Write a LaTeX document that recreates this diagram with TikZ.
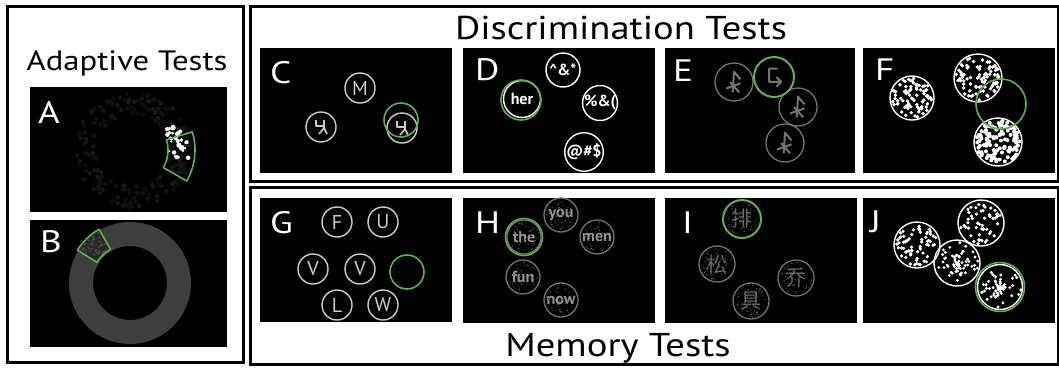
\documentclass[tikz,border=0pt]{standalone}
\usepackage{fontspec}
\usepackage{graphicx}
\setmainfont{PT Sans}
\newfontfamily\cjk{Noto Sans CJK SC}
\definecolor{pickgreen}{RGB}{96,178,72}
\definecolor{ringgray}{RGB}{62,62,62}
\definecolor{softgray}{RGB}{205,205,205}
\definecolor{dimgray}{RGB}{115,115,115}
\definecolor{textgray}{RGB}{150,150,150}
\definecolor{hangray}{RGB}{105,105,105}

% headings and panel letters are set a little wider than the face
\newcommand\wide[1]{\scalebox{1.2}[1]{#1}}

% random dots spread evenly over a disc: x, y, radius, count, dot radius, colour
\newcommand\speckle[6]{%
  \foreach \k in {1,...,#4}{%
    \pgfmathsetmacro\drad{#3*sqrt(rnd)}%
    \pgfmathsetmacro\dang{360*rnd}%
    \fill[#6] ({#1+\drad*cos(\dang)},{#2+\drad*sin(\dang)}) circle (#5);
  }}
% random dots gathered towards the middle of a disc
\newcommand\clump[6]{%
  \foreach \k in {1,...,#4}{%
    \pgfmathsetmacro\drad{#3*rnd}%
    \pgfmathsetmacro\dang{360*rnd}%
    \fill[#6] ({#1+\drad*cos(\dang)},{#2+\drad*sin(\dang)}) circle (#5);
  }}

\tikzset{
  frame/.style={draw=black, line width=3pt},
  panel/.style={fill=black},
  tag/.style={anchor=base west, inner sep=0pt, text=white, font=\fontsize{31}{31}\selectfont},
  heading/.style={anchor=base, inner sep=0pt, text=black, font=\fontsize{33}{33}\selectfont},
  letterring/.style={circle, draw=softgray, line width=1.4pt, inner sep=0pt,
    minimum size=30pt, text=softgray, font=\fontsize{20}{20}\selectfont},
  symring/.style={circle, draw=white, line width=1.4pt, inner sep=0pt,
    minimum size=34pt, text=white, font=\bfseries\fontsize{16}{16}\selectfont},
  faintring/.style={circle, draw=dimgray, line width=1.3pt, inner sep=0pt, minimum size=38pt},
  dotring/.style={circle, draw=white, line width=1.4pt, inner sep=0pt, minimum size=#1},
  wordring/.style={circle, draw=dimgray, line width=1.3pt, inner sep=0pt,
    minimum size=34pt, text=textgray, font=\bfseries\fontsize{16}{16}\selectfont},
  hanring/.style={circle, draw=dimgray, line width=1.3pt, inner sep=0pt,
    minimum size=36pt, text=hangray, font=\cjk\fontsize{21}{21}\selectfont},
  pick/.style={circle, draw=pickgreen, line width=1.6pt, inner sep=0pt, minimum size=#1},
  chglyph/.pic={\draw[softgray, line width=1.6pt, line join=round]
      (-5,-7) -- (-5,-1) -- (3,-1) (3,-7) -- (3,1) -- (-2,7) (3,1) -- (6,7);},
  runeglyph/.pic={\draw[dimgray, line width=2pt, line join=round, scale=1.3]
      (-1,8) -- (0,-8) -- (5,-2) (-6,5) -- (5,1) (-3,0) -- (4,8);},
  turnglyph/.pic={\draw[dimgray, line width=2pt, line join=round, scale=1.2]
      (3,-7) -- (-4,-7) -- (-4,4) -- (6,4) (2,0) -- (6,4) -- (2,8);}
}

\begin{document}
\begin{tikzpicture}[x=1pt, y=-1pt]
\useasboundingbox (0,0) rectangle (1059,368);
\pgfmathsetseed{17}

% ---------- outer frames and headings ----------
\draw[frame] (7,6) rectangle (243,362);
\draw[frame] (250,6) rectangle (1058,181);
\draw[frame] (250,187) rectangle (1058,364);
\node[heading, font=\fontsize{28}{28}\selectfont] (adapt) at (127,70)
  {\scalebox{1.17}[1]{Adaptive Tests}};
\node[heading] (discr) at (621,39) {\scalebox{1.17}[1]{Discrimination Tests}};
\node[heading] (memo) at (618,356) {\scalebox{1.17}[1]{Memory Tests}};

% ---------- A: ring of faint dots with a bright cluster ----------
\fill[panel] (30,87) rectangle (227,212);
\foreach \k in {1,...,200}{%
  \pgfmathsetmacro\drad{36+22*rnd}%
  \pgfmathsetmacro\dang{360*rnd}%
  \pgfmathsetmacro\lev{int(4+6*rnd)}%
  \fill[white!\lev!black] ({133+\drad*cos(\dang)},{150+\drad*sin(\dang)}) circle (2.3);
}
\foreach \k in {1,...,30}{%
  \pgfmathsetmacro\drad{36+20*rnd}%
  \pgfmathsetmacro\dang{-32+44*rnd}%
  \pgfmathsetmacro\dsz{1+2*rnd}%
  \fill[white] ({133+\drad*cos(\dang)},{150+\drad*sin(\dang)}) circle (\dsz);
}
\draw[pickgreen, line width=1.6pt, line join=round]
  ([shift={(-17:62)}]133,150) arc[start angle=-17, end angle=30, radius=62]
  -- ([shift={(30:35)}]133,150) arc[start angle=30, end angle=-17, radius=35] -- cycle;
\node[tag] (tagA) at (38,123) {\wide{A}};

% ---------- B: grey annulus with a marked sector ----------
\fill[panel] (30,220) rectangle (227,347);
\fill[ringgray, even odd rule] (130,283) circle (61) (130,283) circle (37);
\fill[black!35!ringgray]
  ([shift={(-120:61)}]130,283) arc[start angle=-120, end angle=-148, radius=61]
  -- ([shift={(-148:38)}]130,283) arc[start angle=-148, end angle=-120, radius=38] -- cycle;
\foreach \k in {1,...,40}{%
  \pgfmathsetmacro\drad{40+20*rnd}%
  \pgfmathsetmacro\dang{-146+24*rnd}%
  \fill[white!30!black] ({130+\drad*cos(\dang)},{283+\drad*sin(\dang)}) circle (1.1);
}
\draw[pickgreen, line width=1.6pt, line join=round]
  ([shift={(-120:62)}]130,283) arc[start angle=-120, end angle=-148, radius=62]
  -- ([shift={(-148:39)}]130,283) arc[start angle=-148, end angle=-120, radius=39] -- cycle;
\node[tag] (tagB) at (40,252) {\wide{B}};

% ---------- C: odd symbol out ----------
\fill[panel] (260,48) rectangle (452,173);
\node[tag] (tagC) at (270,83) {\wide{C}};
\node[letterring] (cM) at (360,88) {M};
\node[letterring] (cL) at (321,127) {};
\pic at (cL.center) {chglyph};
\node[letterring] (cR) at (402,128) {};
\pic at (cR.center) {chglyph};
\node[pick=34pt] (cPick) at (401,120) {};

% ---------- D: word among symbol strings ----------
\fill[panel] (463,48) rectangle (655,173);
\node[tag] (tagD) at (475,80) {\wide{D}};
\node[symring] (dA) at (563,70) {\textasciicircum\&*};
\node[symring, minimum size=37pt] (dHer) at (522,99) {her};
\node[pick=40pt] (dPick) at (521,100) {};
\node[symring] (dB) at (600,103) {\%\&(};
\node[symring] (dC) at (584,152) {@\#\$};

% ---------- E: rotated glyph ----------
\fill[panel] (665,48) rectangle (855,173);
\node[tag] (tagE) at (673,81) {\wide{E}};
\node[faintring] (e1) at (734,82) {};
\pic at (e1.center) {runeglyph};
\node[faintring] (e2) at (798,107) {};
\pic at (e2.center) {runeglyph};
\node[faintring] (e3) at (785,143) {};
\pic at (e3.center) {runeglyph};
\node[pick=40pt, line width=2pt] (ePick) at (774,77) {};
\pic at (ePick.center) {turnglyph};

% ---------- F: dot textures ----------
\fill[panel] (863,48) rectangle (1055,173);
\node[tag] (tagF) at (875,80) {\wide{F}};
\speckle{912}{98}{20}{80}{1.9}{white}
\speckle{978}{78}{22}{85}{1.9}{white}
\speckle{998}{142}{22}{120}{2}{white}
\node[dotring=44pt] (f1) at (912,98) {};
\node[dotring=48pt] (f2) at (978,78) {};
\node[dotring=48pt] (f3) at (998,142) {};
\node[pick=50pt] (fPick) at (1001,104) {};

% ---------- G: letter locations ----------
\fill[panel] (260,198) rectangle (452,322);
\node[tag] (tagG) at (270,233) {\wide{G}};
\node[letterring] (gF) at (337,222) {F};
\node[letterring] (gU) at (383,222) {U};
\node[letterring] (gV1) at (313,269) {V};
\node[letterring] (gV2) at (360,269) {V};
\node[letterring] (gL) at (337,305) {L};
\node[letterring] (gW) at (383,305) {W};
\node[pick=34pt] (gPick) at (407,272) {};

% ---------- H: noisy words ----------
\fill[panel] (463,198) rectangle (655,323);
\node[tag] (tagH) at (475,233) {\wide{H}};
\foreach \cx/\cy in {561/215, 524/237, 597/237, 523/277, 561/300}{
  \speckle{\cx}{\cy}{15}{40}{0.6}{white!45!black}
}
\node[wordring] (hYou) at (561,215) {you};
\node[wordring] (hThe) at (524,237) {the};
\node[wordring] (hMen) at (597,237) {men};
\node[wordring] (hFun) at (523,277) {fun};
\node[wordring] (hNow) at (561,300) {now};
\foreach \cx/\cy in {561/215, 524/237, 597/237, 523/277, 561/300}{
  \speckle{\cx}{\cy}{13}{30}{0.5}{black}
}
\node[pick=37pt] (hPick) at (524,237) {};

% ---------- I: noisy characters ----------
\fill[panel] (665,198) rectangle (857,323);
\node[tag] (tagI) at (682,233) {\wide{I}};
\foreach \cx/\cy in {742/219, 717/264, 796/278, 751/301}{
  \speckle{\cx}{\cy}{16}{45}{0.6}{white!40!black}
}
\node[hanring, draw=none] (iTop) at (742,219) {排};
\node[hanring] (iLeft) at (717,264) {松};
\node[hanring] (iRight) at (796,278) {乔};
\node[hanring] (iLow) at (751,301) {具};
\foreach \cx/\cy in {742/219, 717/264, 796/278, 751/301}{
  \speckle{\cx}{\cy}{13}{40}{0.55}{black}
}
\node[pick=38pt, line width=2pt] (iPick) at (742,219) {};

% ---------- J: dot clouds ----------
\fill[panel] (863,198) rectangle (1055,323);
\node[tag] (tagJ) at (870,232) {\wide{J}};
\speckle{917}{245}{21}{65}{1.8}{white}
\speckle{981}{223}{21}{50}{1.8}{white}
\clump{957}{263}{21}{65}{1.6}{white}
\clump{1000}{287}{21}{60}{1.6}{white}
\node[dotring=46pt] (j1) at (917,245) {};
\node[dotring=46pt] (j2) at (981,223) {};
\node[dotring=46pt] (j3) at (957,263) {};
\node[dotring=45pt] (j4) at (1000,287) {};
\node[pick=49pt] (jPick) at (1000,287) {};
\end{tikzpicture}
\end{document}
